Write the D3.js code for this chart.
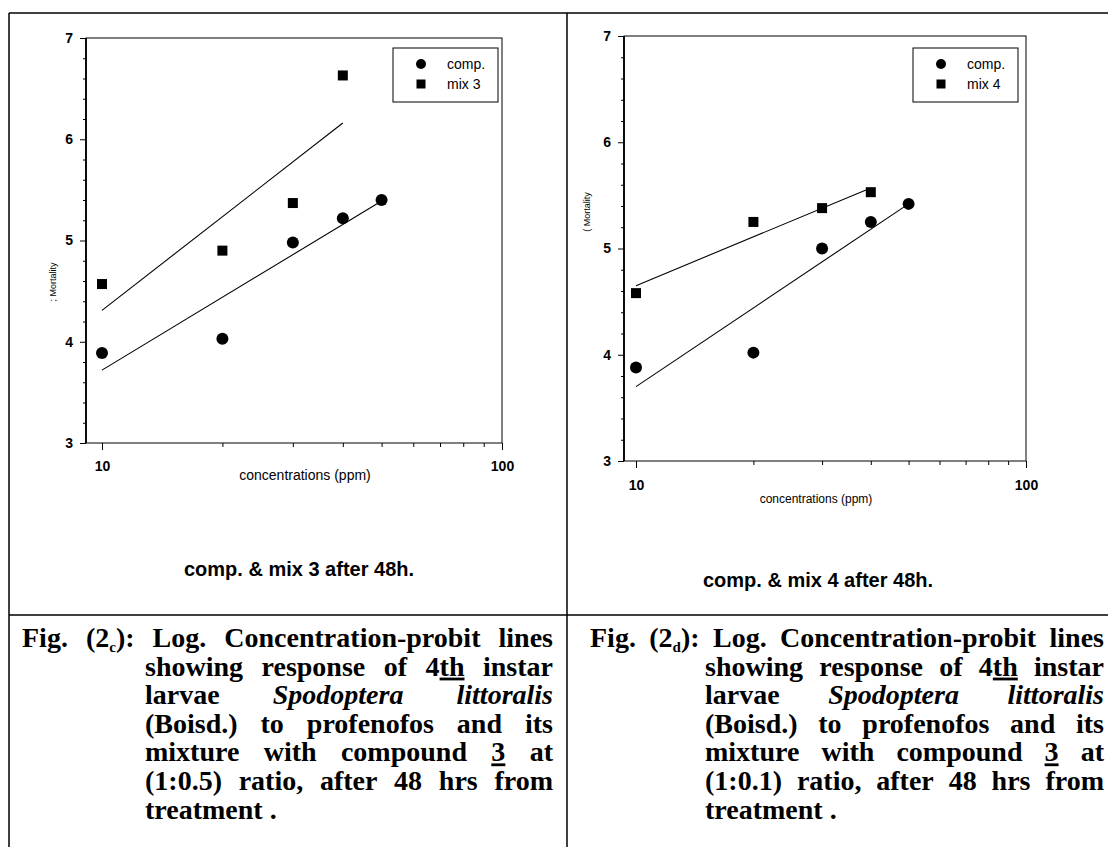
<!DOCTYPE html>
<html>
<head>
<meta charset="utf-8">
<script src="https://cdnjs.cloudflare.com/ajax/libs/d3/7.8.5/d3.min.js"></script>
<style>
body { margin: 0; background: #fff; }
svg text { fill: #000; }
</style>
</head>
<body>
<svg id="page" width="1108" height="847"></svg>
<script>
// concentrations (ppm)
var compConc = [10, 20, 30, 40, 50];
var mixConc = [10, 20, 30, 40];
var compFitConc = [10, 50];
var mixFitConc = [10, 40];

// fig 2c : comp. & mix 3 (probit values)
var compC = [3.89, 4.03, 4.98, 5.22, 5.40];
var mix3 = [4.57, 4.90, 5.37, 6.63];
var compCFit = [3.72, 5.39];
var mix3Fit = [4.31, 6.16];

// fig 2d : comp. & mix 4
var compD = [3.88, 4.02, 5.00, 5.25, 5.42];
var mix4 = [4.58, 5.25, 5.38, 5.53];
var compDFit = [3.70, 5.42];
var mix4Fit = [4.65, 5.57];

var yTicks = [3, 4, 5, 6, 7];
var yMinorTicks = [3.2, 3.4, 3.6, 3.8, 4.2, 4.4, 4.6, 4.8, 5.2, 5.4, 5.6, 5.8, 6.2, 6.4, 6.6, 6.8];
var xTicks = [10, 100];
var xMinorTicks = [20, 30, 40, 50, 60, 70, 80, 90];

var captionC = [
    ['Fig.', [{t: '(2'}, {t: 'c', sub: 1}, {t: '):'}], 'Log.', 'Concentration-probit', 'lines'],
    ['showing', 'response', 'of', [{t: '4'}, {t: 'th', u: 1}], 'instar'],
    ['larvae', [{t: 'Spodoptera', i: 1}], [{t: 'littoralis', i: 1}]],
    ['(Boisd.)', 'to', 'profenofos', 'and', 'its'],
    ['mixture', 'with', 'compound', [{t: '3', u: 1}], 'at'],
    ['(1:0.5)', 'ratio,', 'after', '48', 'hrs', 'from'],
    ['treatment .']
];
var captionD = [
    ['Fig.', [{t: '(2'}, {t: 'd', sub: 1}, {t: '):'}], 'Log.', 'Concentration-probit', 'lines'],
    ['showing', 'response', 'of', [{t: '4'}, {t: 'th', u: 1}], 'instar'],
    ['larvae', [{t: 'Spodoptera', i: 1}], [{t: 'littoralis', i: 1}]],
    ['(Boisd.)', 'to', 'profenofos', 'and', 'its'],
    ['mixture', 'with', 'compound', [{t: '3', u: 1}], 'at'],
    ['(1:0.1)', 'ratio,', 'after', '48', 'hrs', 'from'],
    ['treatment .']
];

var SANS = '"Liberation Sans", Arial, sans-serif';
var SERIF = '"Liberation Serif", "Times New Roman", serif';

var svg = d3.select('#page');
svg.append('rect').attr('width', 1108).attr('height', 847).attr('fill', '#fff');

// table rules around the two figures
var rules = svg.append('g').attr('stroke', '#000').attr('stroke-width', 1.5);
rules.append('line').attr('x1', 9).attr('y1', 13).attr('x2', 1108).attr('y2', 13);
rules.append('line').attr('x1', 9).attr('y1', 13).attr('x2', 9).attr('y2', 847);
rules.append('line').attr('x1', 567).attr('y1', 13).attr('x2', 567).attr('y2', 847);
rules.append('line').attr('x1', 9).attr('y1', 615).attr('x2', 1108).attr('y2', 615);

function drawPanel(p) {
    var g = svg.append('g');
    var x = d3.scaleLog().domain([10, 100]).range([p.x10, p.x100]);
    var y = d3.scaleLinear().domain([3, 7]).range([p.bottom, p.top]);

    // plot frame
    g.append('rect')
        .attr('x', p.left).attr('y', p.top)
        .attr('width', p.right - p.left).attr('height', p.bottom - p.top)
        .attr('fill', 'none').attr('stroke', '#000').attr('stroke-width', 1);
    g.append('line')
        .attr('x1', p.left).attr('y1', p.top).attr('x2', p.left).attr('y2', p.bottom)
        .attr('stroke', '#000').attr('stroke-width', 1.8);

    var yAxis = d3.axisLeft(y).tickValues(yTicks).tickSize(6).tickPadding(7).tickFormat(d3.format('d'));
    g.append('g').attr('transform', 'translate(' + p.left + ',0)').call(yAxis)
        .attr('font-family', SANS).attr('font-size', 14).attr('font-weight', 'bold')
        .call(function (a) { a.select('.domain').remove(); });
    g.append('g').attr('transform', 'translate(' + p.left + ',0)')
        .call(d3.axisLeft(y).tickValues(yMinorTicks).tickSize(3).tickFormat(''))
        .call(function (a) { a.select('.domain').remove(); });

    var xAxis = d3.axisBottom(x).tickValues(xTicks).tickSize(7).tickPadding(p.xPad).tickFormat(d3.format('d'));
    g.append('g').attr('transform', 'translate(0,' + p.bottom + ')').call(xAxis)
        .attr('font-family', SANS).attr('font-size', 14).attr('font-weight', 'bold')
        .call(function (a) { a.select('.domain').remove(); });
    g.append('g').attr('transform', 'translate(0,' + p.bottom + ')')
        .call(d3.axisBottom(x).tickValues(xMinorTicks).tickSize(4).tickFormat(''))
        .call(function (a) { a.select('.domain').remove(); });

    // axis titles
    g.append('text')
        .attr('transform', 'translate(' + p.yLabel[0] + ',' + p.yLabel[1] + ') rotate(-90)')
        .attr('text-anchor', 'middle').attr('font-family', SANS).attr('font-size', 9)
        .text(p.yTitle);
    g.append('text')
        .attr('x', p.xLabel[0]).attr('y', p.xLabel[1])
        .attr('text-anchor', 'middle').attr('font-family', SANS).attr('font-size', p.xLabelSize)
        .text('concentrations (ppm)');

    // fitted probit lines
    var line = d3.line().x(function (d) { return x(d[0]); }).y(function (d) { return y(d[1]); });
    g.append('path').datum(d3.zip(compFitConc, p.compFit))
        .attr('d', line).attr('fill', 'none').attr('stroke', '#000').attr('stroke-width', 1.1);
    g.append('path').datum(d3.zip(mixFitConc, p.mixFit))
        .attr('d', line).attr('fill', 'none').attr('stroke', '#000').attr('stroke-width', 1.1);

    // observed points
    g.selectAll('circle.comp').data(d3.zip(compConc, p.comp)).enter()
        .append('circle').attr('class', 'comp')
        .attr('cx', function (d) { return x(d[0]); })
        .attr('cy', function (d) { return y(d[1]); })
        .attr('r', 6).attr('fill', '#000');
    g.selectAll('rect.mix').data(d3.zip(mixConc, p.mix)).enter()
        .append('rect').attr('class', 'mix')
        .attr('x', function (d) { return x(d[0]) - 5; })
        .attr('y', function (d) { return y(d[1]) - 5; })
        .attr('width', 10).attr('height', 10).attr('fill', '#000');

    // legend
    var L = p.legend;
    var lg = g.append('g').attr('transform', 'translate(' + L[0] + ',' + L[1] + ')');
    lg.append('rect').attr('width', 105).attr('height', 54)
        .attr('fill', '#fff').attr('stroke', '#000').attr('stroke-width', 1);
    lg.append('circle').attr('cx', 28).attr('cy', 16).attr('r', 5).attr('fill', '#000');
    lg.append('rect').attr('x', 23.5).attr('y', 31.5).attr('width', 9).attr('height', 9).attr('fill', '#000');
    lg.append('text').attr('x', 54).attr('y', 21).attr('font-family', SANS).attr('font-size', 14).text('comp.');
    lg.append('text').attr('x', 54).attr('y', 41).attr('font-family', SANS).attr('font-size', 14).text(p.mixName);

    // sub title under the plot
    g.append('text')
        .attr('x', p.subtitle[0]).attr('y', p.subtitle[1])
        .attr('text-anchor', 'middle').attr('font-family', SANS)
        .attr('font-size', 20).attr('font-weight', 'bold')
        .text('comp. & ' + p.mixName + ' after 48h.');
}

drawPanel({
    left: 86, right: 502, top: 38, bottom: 443, x10: 102, x100: 502, xPad: 11,
    comp: compC, mix: mix3, compFit: compCFit, mixFit: mix3Fit, mixName: 'mix 3',
    yTitle: '; Mortality', yLabel: [56, 282], xLabel: [305, 480], xLabelSize: 14,
    legend: [393, 48], subtitle: [299, 576]
});
drawPanel({
    left: 624, right: 1026, top: 36, bottom: 461, x10: 636, x100: 1026, xPad: 12,
    comp: compD, mix: mix4, compFit: compDFit, mixFit: mix4Fit, mixName: 'mix 4',
    yTitle: '( Mortality', yLabel: [590, 212], xLabel: [816, 503], xLabelSize: 12,
    legend: [913, 48], subtitle: [818, 587]
});

// justified caption, hanging indent after the first line
function drawCaption(lines, x0, indent, x1, base, lead) {
    var g = svg.append('g').attr('font-family', SERIF).attr('font-size', 28).attr('font-weight', 'bold');
    lines.forEach(function (words, li) {
        var texts = words.map(function (w) {
            var t = g.append('text').attr('y', base + li * lead);
            var runs = typeof w === 'string' ? [{t: w}] : w;
            var shifted = 0;
            runs.forEach(function (r) {
                var s = t.append('tspan').text(r.t);
                if (r.i) s.attr('font-style', 'italic');
                if (r.u) s.style('text-decoration', 'underline');
                if (r.sub) { s.attr('font-size', 15).attr('dy', 5); shifted = 5; }
                else if (shifted) { s.attr('dy', -shifted); shifted = 0; }
            });
            return t;
        });
        var start = li === 0 ? x0 : indent;
        var widths = texts.map(function (t) { return t.node().getComputedTextLength(); });
        var gap = 7;
        if (li < lines.length - 1 && texts.length > 1) {
            gap = (x1 - start - d3.sum(widths)) / (texts.length - 1);
        }
        var cx = start;
        texts.forEach(function (t, k) {
            t.attr('x', cx);
            cx += widths[k] + gap;
        });
    });
}

drawCaption(captionC, 22, 145, 553, 647, 28.6);
drawCaption(captionD, 590, 705, 1104, 647, 28.6);
</script>
</body>
</html>
